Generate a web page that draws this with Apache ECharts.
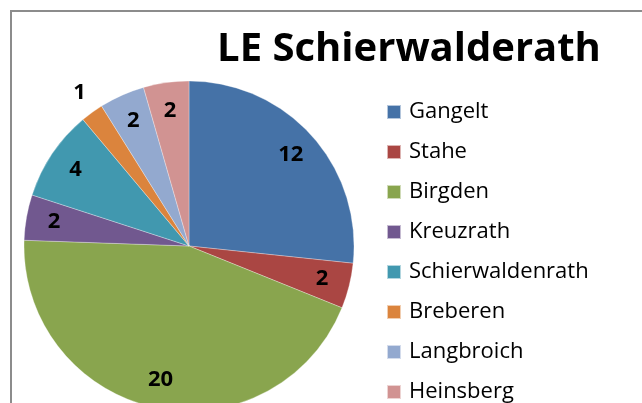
<!DOCTYPE html>
<html>
<head>
<meta charset="utf-8">
<script src="https://cdn.jsdelivr.net/npm/echarts@6/dist/echarts.min.js"></script>
<style>
  html, body { margin: 0; padding: 0; background: #fff; }
  #chart { width: 642px; height: 403px; }
</style>
</head>
<body>
<div id="chart"></div>
<script>
var names = ['Gangelt', 'Stahe', 'Birgden', 'Kreuzrath', 'Schierwaldenrath', 'Breberen', 'Langbroich', 'Heinsberg'];
var values = [12, 2, 20, 2, 4, 1, 2, 2];
var colors = ['#4572A7', '#AA4643', '#89A54E', '#71588F', '#4198AF', '#DB843D', '#93A9CF', '#D19392'];

document.addEventListener('DOMContentLoaded', function () {
    var myChart = echarts.init(document.getElementById('chart'));

    var pieData = names.map(function (n, i) {
        return { name: n, value: values[i] };
    });

    // labels sit on a transparent ring so they end up near the rim like Excel does
    var labelData = names.map(function (n, i) {
        var item = { name: n, value: values[i] };
        if (values[i] < 2) {
            item.label = { position: 'outside', distanceToLabelLine: -8 };
        }
        return item;
    });

    var option = {
        color: colors,
        animation: false,
        title: {
            text: 'LE Schierwalderath',
            left: 404,
            textAlign: 'center',
            top: 25,
            textStyle: {
                fontFamily: 'Open Sans',
                fontWeight: 'bold',
                fontSize: 40,
                color: '#000'
            }
        },
        legend: {
            orient: 'vertical',
            left: 381,
            top: 95,
            height: 400,
            icon: 'rect',
            itemWidth: 14,
            itemHeight: 14,
            itemGap: 16,
            data: names,
            textStyle: {
                fontFamily: 'Open Sans',
                fontSize: 22,
                lineHeight: 24,
                color: '#000',
                padding: [0, 0, 0, 3]
            }
        },
        graphic: [{
            type: 'rect',
            shape: { x: 11, y: 11, width: 700, height: 500 },
            style: { fill: 'none', stroke: '#8c8c8c', lineWidth: 2 },
            silent: true
        }],
        series: [
            {
                type: 'pie',
                center: [189, 246],
                radius: 165,
                startAngle: 90,
                clockwise: true,
                label: { show: false },
                labelLine: { show: false },
                itemStyle: { borderColor: 'rgba(255,255,255,0.6)', borderWidth: 0.5 },
                data: pieData
            },
            {
                type: 'pie',
                center: [189, 246],
                radius: [103, 165],
                startAngle: 90,
                clockwise: true,
                silent: true,
                legendHoverLink: false,
                itemStyle: { color: 'rgba(0,0,0,0)' },
                label: {
                    show: true,
                    position: 'inside',
                    formatter: '{c}',
                    fontFamily: 'Open Sans',
                    fontWeight: 'bold',
                    fontSize: 22,
                    color: '#000'
                },
                labelLine: { show: false, length: 24, length2: 0 },
                data: labelData
            }
        ]
    };
    myChart.setOption(option);
});
</script>
</body>
</html>
